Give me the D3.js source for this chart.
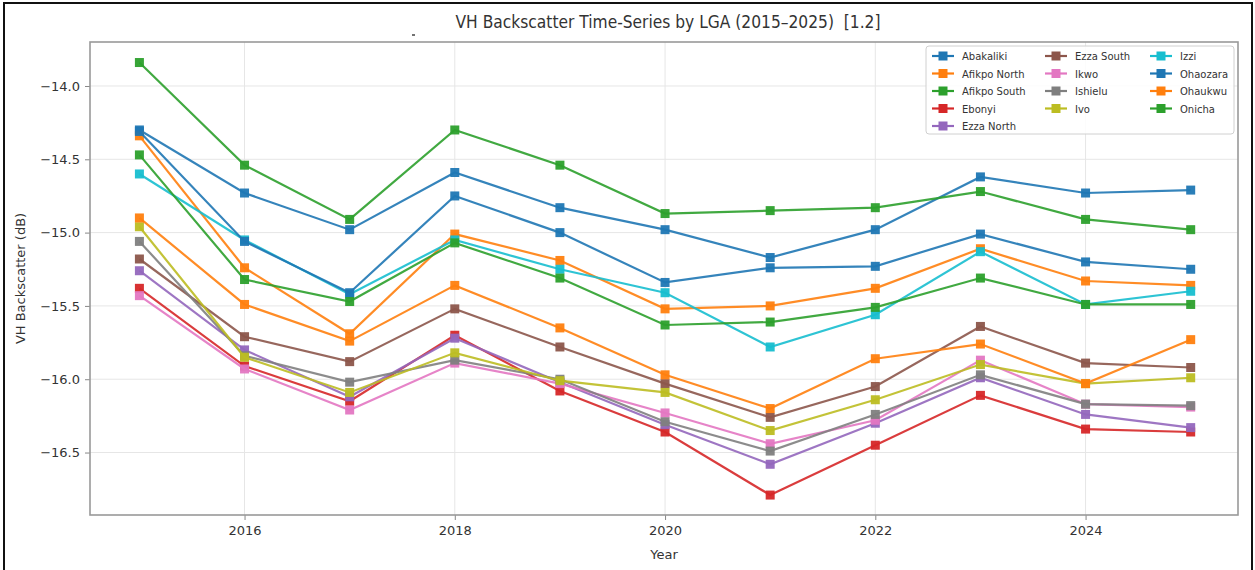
<!DOCTYPE html>
<html>
<head>
<meta charset="utf-8">
<script src="https://cdn.jsdelivr.net/npm/d3@7"></script>
<style>
  body { margin: 0; background: #fff; }
  text { font-family: "DejaVu Sans", sans-serif; fill: #333; }
</style>
</head>
<body>
<script>
// values (dB)
let years = [2015, 2016, 2017, 2018, 2019, 2020, 2021, 2022, 2023, 2024, 2025];
let lgaNames = ['Abakaliki', 'Afikpo North', 'Afikpo South', 'Ebonyi', 'Ezza North', 'Ezza South',
    'Ikwo', 'Ishielu', 'Ivo', 'Izzi', 'Ohaozara', 'Ohaukwu', 'Onicha'];
let abakaliki   = [-14.30, -14.73, -14.98, -14.59, -14.83, -14.98, -15.17, -14.98, -14.62, -14.73, -14.71];
let afikpoNorth = [-14.34, -15.24, -15.69, -15.01, -15.19, -15.52, -15.50, -15.38, -15.11, -15.33, -15.36];
let afikpoSouth = [-13.84, -14.54, -14.91, -14.30, -14.54, -14.87, -14.85, -14.83, -14.72, -14.91, -14.98];
let ebonyi      = [-15.38, -15.91, -16.15, -15.70, -16.08, -16.36, -16.79, -16.45, -16.11, -16.34, -16.36];
let ezzaNorth   = [-15.26, -15.80, -16.12, -15.72, -16.02, -16.31, -16.58, -16.30, -15.99, -16.24, -16.33];
let ezzaSouth   = [-15.18, -15.71, -15.88, -15.52, -15.78, -16.03, -16.26, -16.05, -15.64, -15.89, -15.92];
let ikwo        = [-15.43, -15.93, -16.21, -15.89, -16.03, -16.23, -16.44, -16.28, -15.87, -16.17, -16.19];
let ishielu     = [-15.06, -15.84, -16.02, -15.87, -16.00, -16.29, -16.49, -16.24, -15.97, -16.17, -16.18];
let ivo         = [-14.96, -15.85, -16.09, -15.82, -16.01, -16.09, -16.35, -16.14, -15.90, -16.03, -15.99];
let izzi        = [-14.60, -15.05, -15.42, -15.05, -15.25, -15.41, -15.78, -15.56, -15.13, -15.49, -15.40];
let ohaozara    = [-14.31, -15.06, -15.41, -14.75, -15.00, -15.34, -15.24, -15.23, -15.01, -15.20, -15.25];
let ohaukwu     = [-14.90, -15.49, -15.74, -15.36, -15.65, -15.97, -16.20, -15.86, -15.76, -16.03, -15.73];
let onicha      = [-14.47, -15.32, -15.47, -15.07, -15.31, -15.63, -15.61, -15.51, -15.31, -15.49, -15.49];
let xTicks = [2016, 2018, 2020, 2022, 2024];
let yTicks = [-14.0, -14.5, -15.0, -15.5, -16.0, -16.5];

let seriesValues = [abakaliki, afikpoNorth, afikpoSouth, ebonyi, ezzaNorth, ezzaSouth,
    ikwo, ishielu, ivo, izzi, ohaozara, ohaukwu, onicha];
let tab10 = ['#1f77b4', '#ff7f0e', '#2ca02c', '#d62728', '#9467bd', '#8c564b',
    '#e377c2', '#7f7f7f', '#bcbd22', '#17becf'];

let series = lgaNames.map((name, i) => ({
    name: name,
    color: tab10[i % 10],
    points: years.map((yr, j) => ({year: yr, value: seriesValues[i][j]}))
}));

let W = 1255, H = 570;
let margin = {top: 42, right: 17, bottom: 55, left: 90};
let width = W - margin.left - margin.right,
    height = H - margin.top - margin.bottom;

let svg = d3.select('body').append('svg')
    .attr('width', W)
    .attr('height', H);

// outer black frame of the figure
svg.append('rect')
    .attr('x', 4).attr('y', 3)
    .attr('width', W - 7).attr('height', H + 10)
    .attr('fill', 'none')
    .attr('stroke', '#111')
    .attr('stroke-width', 2);

// stray little mark left of the title in the source image
svg.append('line')
    .attr('x1', 412).attr('x2', 415)
    .attr('y1', 35).attr('y2', 35)
    .attr('stroke', '#444').attr('stroke-width', 1.5);

let g = svg.append('g')
    .attr('transform', 'translate(' + margin.left + ',' + margin.top + ')');

let x = d3.scaleLinear().domain([2014.53, 2025.45]).range([0, width]);
let y = d3.scaleLinear().domain([-16.926, -13.70]).range([height, 0]);

// grid
g.append('g').selectAll('line').data(xTicks).enter().append('line')
    .attr('x1', d => x(d)).attr('x2', d => x(d))
    .attr('y1', 0).attr('y2', height)
    .attr('stroke', '#e6e6e6');
g.append('g').selectAll('line').data(yTicks).enter().append('line')
    .attr('x1', 0).attr('x2', width)
    .attr('y1', d => y(d)).attr('y2', d => y(d))
    .attr('stroke', '#e6e6e6');

// axes
let xAxis = g.append('g')
    .attr('transform', 'translate(0,' + height + ')')
    .call(d3.axisBottom(x).tickValues(xTicks).tickFormat(d3.format('d')).tickSize(5).tickPadding(6));
let yAxis = g.append('g')
    .call(d3.axisLeft(y).tickValues(yTicks).tickFormat(d => d3.format('.1f')(d).replace('-', '\u2212')).tickSize(5).tickPadding(5));

[xAxis, yAxis].forEach(ax => {
    ax.select('.domain').remove();
    ax.selectAll('line').attr('stroke', '#888');
    ax.selectAll('text').style('font-size', '13px').attr('fill', '#333');
});

// spines
g.append('rect')
    .attr('width', width).attr('height', height)
    .attr('fill', 'none')
    .attr('stroke', '#999')
    .attr('stroke-width', 1.6);

let line = d3.line()
    .x(d => x(d.year))
    .y(d => y(d.value));

let lgas = g.selectAll('.lga').data(series).enter().append('g').attr('class', 'lga');
lgas.append('path')
    .attr('d', d => line(d.points))
    .attr('fill', 'none')
    .attr('stroke', d => d.color)
    .attr('stroke-width', 2.2)
    .attr('opacity', 0.9);
lgas.selectAll('rect').data(d => d.points.map(p => Object.assign({color: d.color}, p)))
    .enter().append('rect')
    .attr('x', d => x(d.year) - 4.5)
    .attr('y', d => y(d.value) - 4.5)
    .attr('width', 9).attr('height', 9)
    .attr('fill', d => d.color)
    .attr('opacity', 0.95);

// title and labels
svg.append('text')
    .attr('x', 668).attr('y', 28)
    .attr('text-anchor', 'middle')
    .attr('textLength', 425)
    .attr('lengthAdjust', 'spacingAndGlyphs')
    .style('font-size', '18px')
    .style('white-space', 'pre')
    .text('VH Backscatter Time-Series by LGA (2015\u20132025)  [1.2]');

svg.append('text')
    .attr('x', margin.left + width / 2).attr('y', 559)
    .attr('text-anchor', 'middle')
    .style('font-size', '13px')
    .text('Year');

svg.append('text')
    .attr('transform', 'translate(25,' + (margin.top + height / 2) + ') rotate(-90)')
    .attr('text-anchor', 'middle')
    .style('font-size', '13px')
    .text('VH Backscatter (dB)');

// legend, 3 columns filled column by column
let legend = svg.append('g').attr('transform', 'translate(926,46)');
legend.append('rect')
    .attr('width', 308).attr('height', 88)
    .attr('rx', 3)
    .attr('fill', '#fff').attr('fill-opacity', 0.85)
    .attr('stroke', '#d0d0d0');

let colX = [6, 119, 224], rowH = 17.5, perCol = [5, 4, 4];
let items = [];
let k = 0;
perCol.forEach((n, c) => {
    for (let r = 0; r < n; r++) {
        items.push({s: series[k], col: c, row: r});
        k++;
    }
});
let li = legend.selectAll('.li').data(items).enter().append('g')
    .attr('transform', d => 'translate(' + colX[d.col] + ',' + (10 + d.row * rowH) + ')');
li.append('line')
    .attr('x1', 0).attr('x2', 22)
    .attr('stroke', d => d.s.color).attr('stroke-width', 2.2);
li.append('rect')
    .attr('x', 6.5).attr('y', -4.5).attr('width', 9).attr('height', 9)
    .attr('fill', d => d.s.color);
li.append('text')
    .attr('x', 30).attr('y', 4)
    .style('font-size', '10px')
    .text(d => d.s.name);
</script>
</body>
</html>
